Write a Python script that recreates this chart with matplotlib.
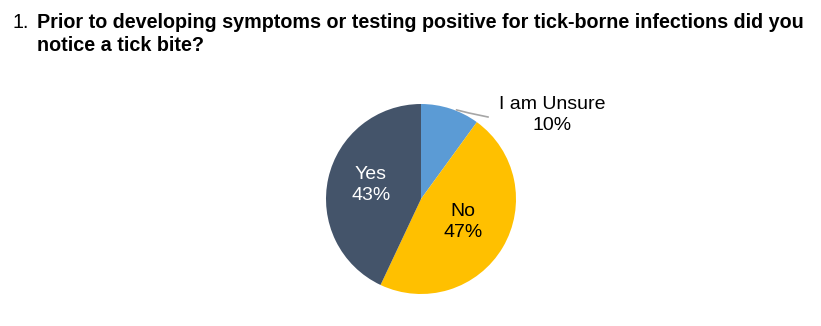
import matplotlib.pyplot as plt
import numpy as np

plt.rcParams['font.family'] = ['Liberation Sans', 'DejaVu Sans']

# survey answers, clockwise from 12 o'clock
answers = ['I am Unsure', 'No', 'Yes']
shares = [10, 47, 43]
colors = ['#5B9BD5', '#FFC000', '#44546A']
label_colors = ['black', 'black', 'white']

W, H = 821, 326
fig = plt.figure(figsize=(W / 100, H / 100), dpi=100)
ax = fig.add_axes([0, 0, 1, 1])

cx, cy, r = 421, H - 199, 95
ax.pie(shares, colors=colors, startangle=90, counterclock=False,
       center=(cx, cy), radius=r, frame=True,
       wedgeprops=dict(linewidth=0))
ax.set_xlim(0, W)
ax.set_ylim(0, H)
ax.set_aspect('equal')
ax.axis('off')

# inside labels for the two big slices
label_pos = {'No': (463, H - 222), 'Yes': (371, H - 185)}
for name, val, c in zip(answers, shares, label_colors):
    if name in label_pos:
        x, y = label_pos[name]
        ax.text(x, y, f'{name}\n{val}%', ha='center', va='center',
                fontsize=14, color=c, linespacing=1.32)

# outside label with leader line for the small slice
ang = np.deg2rad(90 - shares[0] / 100 * 360 / 2 - 4)
ex, ey = cx + r * np.cos(ang), cy + r * np.sin(ang)
ax.plot([ex, ex + 12, 488], [ey + 1, ey - 2, H - 117], color='#A6A6A6', lw=1.2)
ax.text(552, H - 115, f'{answers[0]}\n{shares[0]}%', ha='center', va='center',
        fontsize=14, color='black', linespacing=1.32)

# question title
fig.text(12 / W, 1 - 28 / H, '1.', fontsize=14.2, va='baseline', ha='left')
fig.text(37 / W, 1 - 28 / H,
         'Prior to developing symptoms or testing positive for tick-borne infections did you',
         fontsize=14.2, fontweight='bold', va='baseline', ha='left')
fig.text(37 / W, 1 - 51 / H, 'notice a tick bite?',
         fontsize=14.2, fontweight='bold', va='baseline', ha='left')

fig.savefig('out.png', dpi=100, facecolor='white')
